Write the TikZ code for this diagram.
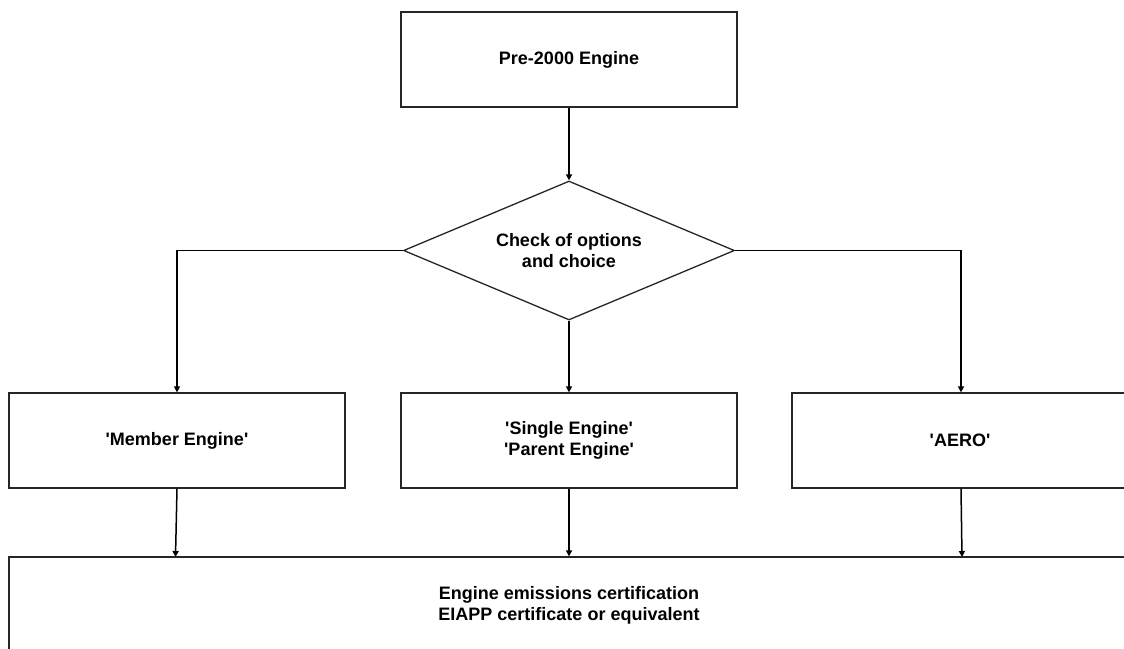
\documentclass[tikz,border=0pt]{standalone}
\usepackage{fontspec}
\setmainfont{Liberation Sans}
\usetikzlibrary{shapes.geometric,arrows.meta,calc}
\newcommand{\sq}{\textquotesingle}
\begin{document}
\begin{tikzpicture}[x=1pt,y=-1pt,
  box/.style={draw=black!85, line width=1.3pt, fill=white, inner sep=0pt, align=center,
    font=\fontsize{18}{21}\selectfont\bfseries},
  conn/.style={draw=black, line width=1.5pt, -{Triangle[length=6pt,width=6pt]}}]
\useasboundingbox (0,0) rectangle (1124,648);
\clip (0,0) rectangle (1124,648);
\node[box, minimum width=336pt, minimum height=95pt] (top) at (569,59.5) {Pre-2000 Engine};
\node[box, diamond, aspect=2.39, minimum width=331pt, minimum height=139pt] (dia) at (569,250.5) {Check of options\\and choice};
\node[box, minimum width=336pt, minimum height=95pt] (mem) at (177,440.5) {\sq Member Engine\sq};
\node[box, minimum width=336pt, minimum height=95pt] (sing) at (569,440.5) {\sq Single Engine\sq\\\sq Parent Engine\sq};
\node[box, minimum width=336pt, minimum height=95pt] (aero) at (960,440.5) {\sq AERO\sq};
\node[box, minimum width=1120pt, minimum height=97pt] (cert) at (569,605.5) {Engine emissions certification\\EIAPP certificate or equivalent};
\coordinate (ml) at (175.5,557);
\coordinate (al) at (961,250.5);
\coordinate (ar) at (962,557);
\draw[conn] (top.south) -- (dia.north);
\draw[conn] (dia.west) -| (mem.north);
\draw[conn] (dia.south) -- (sing.north);
\draw[conn] (dia.east) -- (al) -- (al |- aero.north);
\draw[conn] (mem.south) -- (ml);
\draw[conn] (sing.south) -- (cert.north);
\draw[conn] (al |- aero.south) -- (ar);
\end{tikzpicture}
\end{document}
